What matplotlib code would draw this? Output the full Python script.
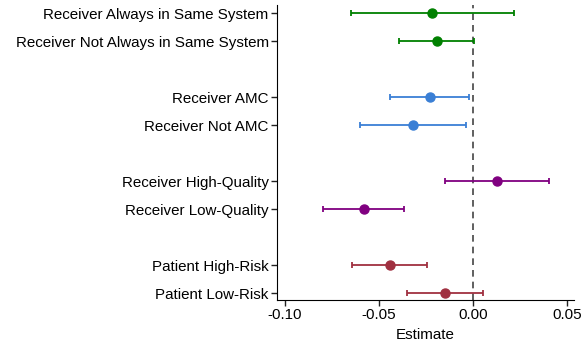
import matplotlib.pyplot as plt

labels = ['Receiver Always in Same System', 'Receiver Not Always in Same System',
          'Receiver AMC', 'Receiver Not AMC',
          'Receiver High-Quality', 'Receiver Low-Quality',
          'Patient High-Risk', 'Patient Low-Risk']
positions = [0, 1, 3, 4, 6, 7, 9, 10]
estimates = [-0.0216, -0.0193, -0.0230, -0.0320, 0.0128, -0.0581, -0.0443, -0.0151]
lower = [-0.0649, -0.0394, -0.0443, -0.0600, -0.0147, -0.0796, -0.0642, -0.0353]
upper = [0.0220, 0.0004, -0.0020, -0.0037, 0.0404, -0.0369, -0.0245, 0.0052]
colors = ['#008000', '#008000', '#3a7fd5', '#3a7fd5',
          '#800080', '#800080', '#a03040', '#a03040']

plt.rcParams['font.family'] = ['Liberation Sans', 'DejaVu Sans']

fig = plt.figure(figsize=(5.81, 3.47), dpi=100)
ax = fig.add_axes([0.4768, 0.1354, 0.5112, 0.8502])

ax.axvline(0, color='#444444', linestyle=(0, (4, 3)), linewidth=1.2, zorder=1)

for y, est, lo, hi, c in zip(positions, estimates, lower, upper, colors):
    ax.errorbar(est, y, xerr=[[est - lo], [hi - est]], fmt='o', color=c,
                markersize=6.5, elinewidth=1.3, capsize=2.5, capthick=1.3, zorder=3)

ax.set_yticks(positions)
ax.set_yticklabels(labels, fontsize=10.9)
ax.set_ylim(10.25, -0.29)
ax.set_xlim(-0.1043, 0.0537)
ax.set_xticks([-0.10, -0.05, 0.00, 0.05])
ax.set_xticklabels(['-0.10', '-0.05', '0.00', '0.05'], fontsize=10.9)
ax.set_xlabel('Estimate', fontsize=10.9, labelpad=4)
ax.spines['top'].set_visible(False)
ax.spines['right'].set_visible(False)
ax.tick_params(axis='both', length=4, width=1, color='#222222', pad=2)

fig.savefig('out.png', dpi=100)
